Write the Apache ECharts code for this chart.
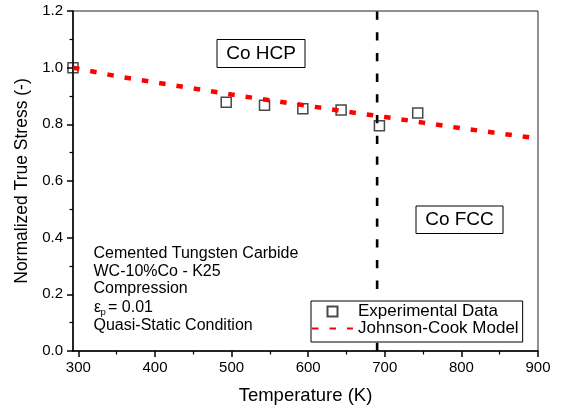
<!DOCTYPE html>
<html>
<head>
<meta charset="utf-8">
<title>Normalized True Stress vs Temperature</title>
<script src="https://cdn.jsdelivr.net/npm/echarts@6/dist/echarts.min.js"></script>
<style>
  html, body { margin: 0; padding: 0; background: #fff; }
  #chart { width: 565px; height: 410px; }
</style>
</head>
<body>
<div id="chart"></div>
<script>
// Measured points (temperature in K, normalized stress)
const expTemp = [293, 493, 543, 593, 643, 693, 743];
const expStress = [1.000, 0.878, 0.867, 0.855, 0.851, 0.795, 0.840];

// Johnson-Cook thermal softening curve
const jcTemp = [293, 350, 400, 450, 500, 550, 600, 650, 700, 750, 800, 850, 900];
const jcStress = [1.000, 0.970, 0.948, 0.927, 0.905, 0.885, 0.865, 0.845, 0.826, 0.806, 0.786, 0.768, 0.750];

// HCP -> FCC transition of the cobalt binder
const transitionTemp = 690;
const transitionSpan = [0, 1.2];

// Axis ticks
const xMajorTicks = [300, 400, 500, 600, 700, 800, 900];
const xMinorTicks = [350, 450, 550, 650, 750, 850];

// Text
const seriesNames = ['Experimental Data', 'Johnson-Cook Model'];
const noteLines = ['Cemented Tungsten Carbide', 'WC-10%Co - K25', 'Compression', 'Quasi-Static Condition'];
const strainSymbol = 'ε';
const strainSub = 'p';
const strainValue = '= 0.01';
const phaseLabels = ['Co HCP', 'Co FCC'];

const FONT = '"Liberation Sans", Arial, Helvetica, sans-serif';
const INK = '#000';

const chart = echarts.init(document.getElementById('chart'), null, { renderer: 'canvas' });

const zip = (xs, ys) => xs.map((x, i) => [x, ys[i]]);

function noteText(text, x, y, size) {
  return {
    type: 'text', x: x, y: y, z: 10,
    style: { text: text, fontFamily: FONT, fontSize: size || 16, fill: INK, verticalAlign: 'middle', align: 'left' }
  };
}

function boxedLabel(text, x, y, w, h) {
  return {
    type: 'group', z: 10,
    children: [
      { type: 'rect', shape: { x: x, y: y, width: w, height: h }, style: { fill: '#fff', stroke: INK, lineWidth: 1 } },
      { type: 'text', x: x + w / 2, y: y + h / 2,
        style: { text: text, fontFamily: FONT, fontSize: 19, fill: INK, align: 'center', verticalAlign: 'middle' } }
    ]
  };
}

const option = {
  animation: false,
  backgroundColor: '#fff',
  textStyle: { fontFamily: FONT },
  grid: { left: 73, right: 27, top: 11, bottom: 58, show: true, borderColor: '#222', borderWidth: 1, backgroundColor: 'transparent' },
  xAxis: [{
    type: 'value', min: 293, max: 900,
    name: 'Temperature (K)', nameLocation: 'middle', nameGap: 35,
    nameTextStyle: { fontSize: 18.5, color: INK, fontFamily: FONT },
    axisLine: { show: true, onZero: false, lineStyle: { color: INK, width: 1.5 } },
    axisTick: { show: true, length: 6, lineStyle: { color: INK, width: 1.5 }, customValues: xMajorTicks },
    axisLabel: { color: INK, fontSize: 15, margin: 9, fontFamily: FONT, customValues: xMajorTicks },
    splitLine: { show: false }
  }, {
    type: 'value', min: 293, max: 900, position: 'bottom', gridIndex: 0,
    axisLine: { show: false },
    axisTick: { show: true, length: 3.5, lineStyle: { color: INK, width: 1.2 }, customValues: xMinorTicks },
    axisLabel: { show: false },
    splitLine: { show: false }
  }],
  yAxis: {
    type: 'value', min: 0, max: 1.2, interval: 0.2,
    name: 'Normalized True Stress (-)', nameLocation: 'middle', nameGap: 41, nameRotate: 90,
    nameTextStyle: { fontSize: 17.5, color: INK, fontFamily: FONT },
    axisLine: { show: true, onZero: false, lineStyle: { color: INK, width: 1.5 } },
    axisTick: { show: true, length: 6, lineStyle: { color: INK, width: 1.5 } },
    minorTick: { show: true, splitNumber: 2, length: 3.5, lineStyle: { color: INK, width: 1.2 } },
    axisLabel: { color: INK, fontSize: 15, margin: 10, fontFamily: FONT, formatter: v => v.toFixed(1) },
    splitLine: { show: false }
  },
  legend: {
    orient: 'vertical', left: 311, top: 301,
    data: [
      { name: seriesNames[0], icon: 'path://M0,0H10V10H0Z' },
      { name: seriesNames[1] }
    ],
    itemWidth: 41, itemHeight: 10, itemGap: 0,
    padding: [2, 4, 5, 0],
    backgroundColor: '#fff', borderColor: INK, borderWidth: 1, borderRadius: 0,
    textStyle: { fontSize: 17, color: INK, fontFamily: FONT, lineHeight: 16 },
    selectedMode: false,
    z: 6
  },
  series: [
    {
      name: 'HCP-FCC transition', type: 'line', xAxisIndex: 0,
      data: transitionSpan.map(v => [transitionTemp, v]),
      symbol: 'none', silent: true, z: 1,
      lineStyle: { color: INK, width: 2.6, type: [8.3, 12.4] }
    },
    {
      name: seriesNames[0], type: 'scatter', xAxisIndex: 0,
      data: zip(expTemp, expStress),
      symbol: 'rect', symbolSize: 10, z: 2,
      itemStyle: { color: 'rgba(255,255,255,0)', borderColor: '#1a1a1a', borderWidth: 1.5 }
    },
    {
      name: seriesNames[1], type: 'line', xAxisIndex: 0,
      data: zip(jcTemp, jcStress),
      symbol: 'none', showSymbol: false, z: 3,
      itemStyle: { color: 'rgba(0,0,0,0)' },
      lineStyle: { color: '#ff0000', width: 4.5, type: [6.5, 11] }
    }
  ],
  graphic: [
    boxedLabel(phaseLabels[0], 217, 39.5, 88, 28),
    boxedLabel(phaseLabels[1], 416, 206, 87, 27.5),
    noteText(noteLines[0], 93.5, 253.5),
    noteText(noteLines[1], 93.5, 271.5),
    noteText(noteLines[2], 93.5, 289),
    noteText(strainSymbol, 94, 308),
    noteText(strainSub, 100.5, 312, 9.5),
    noteText(strainValue, 108, 307.5),
    noteText(noteLines[3], 93.5, 326)
  ]
};

chart.setOption(option);
</script>
</body>
</html>
